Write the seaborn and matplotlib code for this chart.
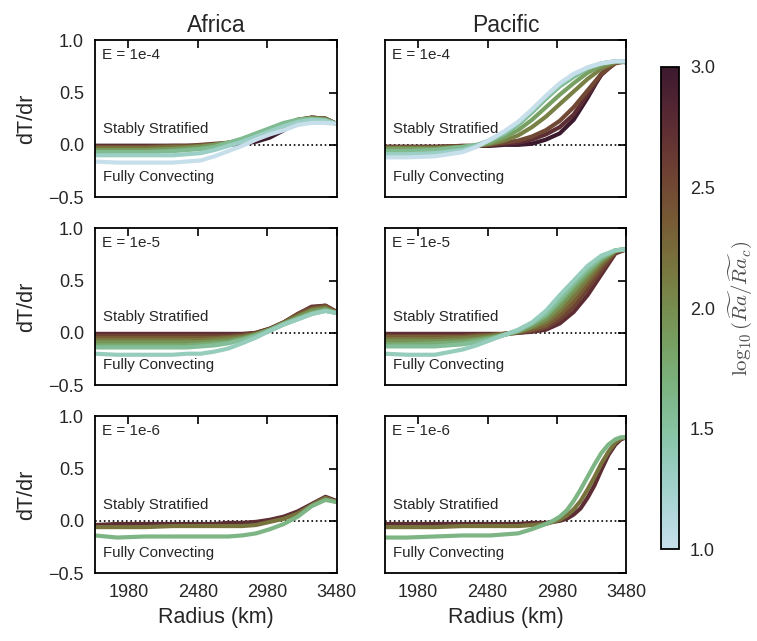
import numpy as np
import pandas as pd
import matplotlib
matplotlib.use("Agg")
import matplotlib.pyplot as plt
import seaborn as sns

# Radius sample points (km), shared by most curves
radius = [1740, 1900, 2100, 2300, 2400, 2500, 2600, 2700, 2800, 2900,
          3000, 3100, 3200, 3300, 3400, 3480]
# finer sampling for the steep Pacific E = 1e-6 curves
radius_fine = [1740, 1900, 2100, 2300, 2500, 2700, 2800, 2900, 2950, 3000,
               3050, 3100, 3150, 3200, 3250, 3300, 3350, 3400, 3440, 3480]

# ---- Africa, E = 1e-4 ----
africa_e4_ra = [3.0, 2.75, 2.5, 2.2, 1.9, 1.6, 1.3, 1.0]
africa_e4 = [
    [-0.01, -0.01, -0.01, -0.01, -0.01, -0.01, 0.00, 0.00, 0.01, 0.03, 0.07, 0.14, 0.22, 0.26, 0.25, 0.20],
    [-0.01, -0.01, -0.01, -0.01, -0.01, -0.01, 0.00, 0.01, 0.02, 0.05, 0.10, 0.16, 0.23, 0.26, 0.25, 0.20],
    [-0.02, -0.02, -0.02, -0.01, -0.01, 0.00, 0.01, 0.02, 0.03, 0.07, 0.12, 0.18, 0.24, 0.26, 0.25, 0.20],
    [-0.03, -0.03, -0.03, -0.02, -0.02, -0.01, 0.00, 0.02, 0.04, 0.08, 0.13, 0.19, 0.24, 0.26, 0.25, 0.20],
    [-0.05, -0.05, -0.05, -0.04, -0.03, -0.02, 0.00, 0.02, 0.05, 0.10, 0.15, 0.20, 0.24, 0.25, 0.24, 0.20],
    [-0.07, -0.07, -0.07, -0.06, -0.05, -0.04, -0.02, 0.02, 0.06, 0.11, 0.16, 0.21, 0.24, 0.25, 0.24, 0.20],
    [-0.10, -0.10, -0.10, -0.10, -0.09, -0.08, -0.05, -0.01, 0.03, 0.08, 0.13, 0.18, 0.22, 0.24, 0.23, 0.20],
    [-0.16, -0.17, -0.17, -0.17, -0.16, -0.15, -0.11, -0.06, -0.01, 0.05, 0.10, 0.14, 0.19, 0.21, 0.21, 0.20],
]

# ---- Pacific, E = 1e-4 ----
pacific_e4_ra = [3.0, 2.75, 2.5, 2.1, 1.85, 1.6, 1.3, 1.0]
pacific_e4 = [
    [-0.02, -0.02, -0.02, -0.02, -0.01, -0.01, 0.00, 0.00, 0.01, 0.05, 0.11, 0.24, 0.45, 0.68, 0.80, 0.79],
    [-0.02, -0.02, -0.02, -0.01, -0.01, 0.00, 0.01, 0.02, 0.05, 0.10, 0.17, 0.29, 0.48, 0.67, 0.79, 0.80],
    [-0.02, -0.02, -0.02, -0.01, -0.01, 0.00, 0.02, 0.04, 0.08, 0.14, 0.23, 0.36, 0.52, 0.68, 0.78, 0.80],
    [-0.03, -0.03, -0.03, -0.02, -0.01, 0.01, 0.04, 0.09, 0.17, 0.27, 0.39, 0.51, 0.63, 0.73, 0.79, 0.80],
    [-0.04, -0.04, -0.04, -0.02, -0.01, 0.02, 0.07, 0.14, 0.24, 0.36, 0.48, 0.59, 0.69, 0.76, 0.80, 0.80],
    [-0.06, -0.06, -0.05, -0.02, 0.00, 0.04, 0.10, 0.19, 0.31, 0.44, 0.56, 0.65, 0.73, 0.78, 0.80, 0.80],
    [-0.09, -0.09, -0.08, -0.05, -0.01, 0.05, 0.12, 0.21, 0.33, 0.46, 0.58, 0.67, 0.74, 0.78, 0.80, 0.80],
    [-0.12, -0.12, -0.11, -0.07, -0.02, 0.05, 0.13, 0.22, 0.34, 0.47, 0.59, 0.68, 0.74, 0.78, 0.80, 0.80],
]

# ---- Africa, E = 1e-5 ----
africa_e5_ra = [2.75, 2.55, 2.35, 2.15, 1.95, 1.75, 1.55, 1.35]
africa_e5 = [
    [-0.01, -0.01, -0.01, -0.01, -0.01, -0.01, -0.01, -0.01, -0.01, 0.00, 0.04, 0.10, 0.18, 0.25, 0.26, 0.20],
    [-0.03, -0.03, -0.03, -0.03, -0.03, -0.03, -0.03, -0.03, -0.02, 0.00, 0.04, 0.10, 0.18, 0.24, 0.26, 0.20],
    [-0.05, -0.05, -0.05, -0.05, -0.05, -0.05, -0.05, -0.04, -0.03, -0.01, 0.03, 0.10, 0.17, 0.23, 0.25, 0.19],
    [-0.07, -0.07, -0.07, -0.07, -0.07, -0.07, -0.06, -0.05, -0.04, -0.01, 0.03, 0.09, 0.16, 0.22, 0.24, 0.19],
    [-0.09, -0.09, -0.09, -0.09, -0.09, -0.09, -0.08, -0.07, -0.05, -0.02, 0.03, 0.09, 0.15, 0.21, 0.23, 0.19],
    [-0.12, -0.12, -0.12, -0.12, -0.12, -0.11, -0.10, -0.09, -0.06, -0.02, 0.03, 0.09, 0.14, 0.19, 0.22, 0.19],
    [-0.14, -0.14, -0.14, -0.14, -0.14, -0.13, -0.12, -0.10, -0.07, -0.03, 0.02, 0.08, 0.13, 0.18, 0.21, 0.19],
    [-0.20, -0.21, -0.21, -0.21, -0.20, -0.20, -0.18, -0.15, -0.10, -0.045, 0.02, 0.08, 0.13, 0.18, 0.21, 0.19],
]

# ---- Pacific, E = 1e-5 ----
pacific_e5_ra = [2.75, 2.55, 2.35, 2.15, 1.95, 1.75, 1.55, 1.35]
pacific_e5 = [
    [-0.01, -0.01, -0.01, -0.01, -0.01, -0.01, -0.01, 0.00, 0.01, 0.03, 0.09, 0.20, 0.36, 0.56, 0.76, 0.80],
    [-0.03, -0.03, -0.03, -0.03, -0.02, -0.02, -0.01, 0.00, 0.02, 0.05, 0.13, 0.25, 0.42, 0.60, 0.77, 0.80],
    [-0.04, -0.04, -0.04, -0.04, -0.03, -0.02, -0.01, 0.01, 0.03, 0.07, 0.17, 0.30, 0.47, 0.64, 0.78, 0.80],
    [-0.06, -0.06, -0.06, -0.05, -0.04, -0.03, -0.01, 0.01, 0.05, 0.10, 0.21, 0.35, 0.51, 0.67, 0.78, 0.80],
    [-0.08, -0.08, -0.08, -0.07, -0.06, -0.04, -0.02, 0.01, 0.06, 0.13, 0.25, 0.40, 0.55, 0.69, 0.79, 0.80],
    [-0.11, -0.11, -0.10, -0.09, -0.07, -0.05, -0.02, 0.02, 0.08, 0.16, 0.29, 0.44, 0.58, 0.71, 0.79, 0.80],
    [-0.13, -0.13, -0.13, -0.11, -0.09, -0.06, -0.02, 0.02, 0.09, 0.18, 0.32, 0.47, 0.61, 0.72, 0.79, 0.80],
    [-0.20, -0.21, -0.21, -0.16, -0.12, -0.07, -0.02, 0.03, 0.10, 0.21, 0.36, 0.50, 0.64, 0.74, 0.79, 0.80],
]

# ---- Africa, E = 1e-6 ----
africa_e6_ra = [2.75, 2.2, 1.65]
africa_e6 = [
    [-0.04, -0.03, -0.03, -0.03, -0.03, -0.03, -0.03, -0.02, -0.02, -0.01, 0.01, 0.04, 0.09, 0.16, 0.23, 0.19],
    [-0.06, -0.06, -0.06, -0.05, -0.05, -0.05, -0.05, -0.05, -0.05, -0.04, -0.01, 0.02, 0.07, 0.15, 0.22, 0.18],
    [-0.14, -0.16, -0.15, -0.15, -0.15, -0.15, -0.15, -0.15, -0.14, -0.12, -0.08, -0.03, 0.04, 0.14, 0.20, 0.18],
]

# ---- Pacific, E = 1e-6 (on radius_fine) ----
pacific_e6_ra = [2.75, 2.2, 1.65]
pacific_e6 = [
    [-0.03, -0.03, -0.03, -0.03, -0.03, -0.03, -0.02, -0.02, -0.01, 0.00, 0.02, 0.06, 0.12, 0.22, 0.34, 0.49, 0.63, 0.73, 0.78, 0.80],
    [-0.06, -0.06, -0.06, -0.05, -0.05, -0.05, -0.04, -0.03, -0.01, 0.01, 0.05, 0.11, 0.19, 0.30, 0.42, 0.55, 0.66, 0.75, 0.79, 0.80],
    [-0.16, -0.16, -0.15, -0.14, -0.14, -0.12, -0.08, -0.03, 0.00, 0.04, 0.10, 0.19, 0.30, 0.42, 0.54, 0.65, 0.73, 0.78, 0.80, 0.80],
]

regions = ["Africa", "Pacific"]
ekman = ["E = 1e-4", "E = 1e-5", "E = 1e-6"]
panels = [
    [(radius, africa_e4_ra, africa_e4), (radius, pacific_e4_ra, pacific_e4)],
    [(radius, africa_e5_ra, africa_e5), (radius, pacific_e5_ra, pacific_e5)],
    [(radius, africa_e6_ra, africa_e6), (radius_fine, pacific_e6_ra, pacific_e6)],
]

# Style
sns.set_style("white", {"xtick.direction": "in", "ytick.direction": "in",
                        "axes.edgecolor": "black"})
plt.rcParams["font.family"] = ["Liberation Sans", "DejaVu Sans"]
plt.rcParams["mathtext.fontset"] = "cm"

cmap = sns.cubehelix_palette(start=0.2, rot=0.95, light=0.85, dark=0.15, as_cmap=True)
norm = matplotlib.colors.Normalize(vmin=1.0, vmax=3.0)

fig, axes = plt.subplots(3, 2, figsize=(7.57, 6.41), dpi=100, sharex=True, sharey=True)
fig.subplots_adjust(left=0.1255, right=0.8275, top=0.937, bottom=0.106,
                    wspace=0.2, hspace=0.2)

for i in range(3):
    for j in range(2):
        ax = axes[i, j]
        r, ra_vals, curves = panels[i][j]
        ax.axhline(0, color="black", ls=":", lw=1.2, zorder=1)
        for ra, vals in zip(ra_vals, curves):
            df = pd.DataFrame({"radius": r, "dTdr": vals})
            sns.lineplot(data=df, x="radius", y="dTdr", color=cmap(norm(ra)),
                         lw=3, ax=ax, zorder=2)
        ax.text(0.03, 0.95, ekman[i], transform=ax.transAxes, ha="left", va="top",
                fontsize=11, color=".15")
        ax.text(1800, 0.15, "Stably Stratified", ha="left", va="center",
                fontsize=10.8, color=".15")
        ax.text(1800, -0.31, "Fully Convecting", ha="left", va="center",
                fontsize=10.8, color=".15")
        ax.set_xlim(1740, 3480)
        ax.set_ylim(-0.5, 1.0)
        ax.set_xticks([1980, 2480, 2980, 3480])
        ax.set_yticks([-0.5, 0.0, 0.5, 1.0])
        ax.tick_params(which="both", direction="in", top=True, right=True,
                       length=6, width=1.2, labelsize=13, colors="black",
                       labelcolor=".15", pad=8)
        for s in ax.spines.values():
            s.set_linewidth(1.3)
            s.set_color("black")
        ax.set_xlabel("Radius (km)" if i == 2 else "", fontsize=15.5, color=".15", labelpad=4)
        ax.set_ylabel("dT/dr" if j == 0 else "", fontsize=15.5, color=".15", labelpad=8)
        if i == 0:
            ax.set_title(regions[j], fontsize=16.5, color=".15", pad=6)

ax_cb = fig.add_axes([0.873, 0.1435, 0.0238, 0.752])
sm = matplotlib.cm.ScalarMappable(norm=norm, cmap=cmap)
cb = fig.colorbar(sm, cax=ax_cb, ticks=[1.0, 1.5, 2.0, 2.5, 3.0], format="%.1f")
cb.outline.set_edgecolor("black")
cb.outline.set_linewidth(1.3)
ax_cb.tick_params(length=0, labelsize=13, labelcolor=".15", pad=8)
cb.set_label(r"$\log_{10}(\widetilde{Ra}/\widetilde{Ra}_c)$", fontsize=15,
             color=".3", labelpad=8)

fig.savefig("out.png", dpi=100)
